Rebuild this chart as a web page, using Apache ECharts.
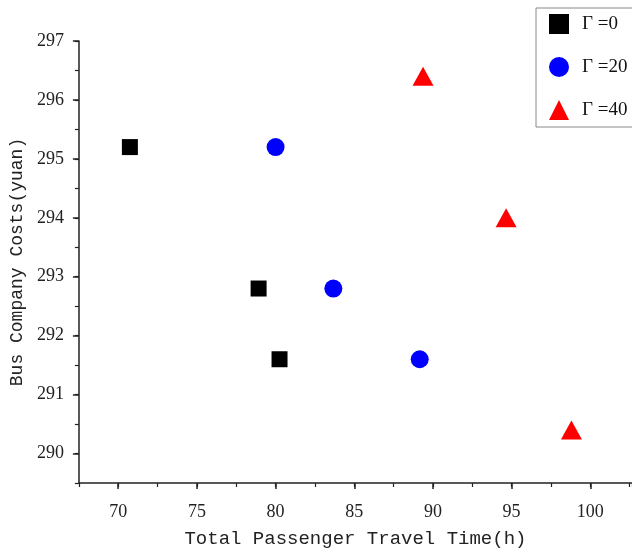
<!DOCTYPE html>
<html>
<head>
<meta charset="utf-8">
<script src="https://cdn.jsdelivr.net/npm/echarts@6/dist/echarts.min.js"></script>
<style>
  html, body { margin: 0; padding: 0; background: #fff; }
  #main { width: 632px; height: 553px; }
</style>
</head>
<body>
<div id="main"></div>
<script>
// data
var seriesNames = ['Γ =0', 'Γ =20', 'Γ =40'];
var g0Time = [70.74, 78.92, 80.25];
var g0Cost = [295.2, 292.8, 291.6];
var g20Time = [80.0, 83.67, 89.16];
var g20Cost = [295.2, 292.8, 291.6];
var g40Time = [89.37, 94.65, 98.8];
var g40Cost = [296.4, 294.0, 290.4];

function pairs(xs, ys) {
  return xs.map(function (x, i) { return [x, ys[i]]; });
}

var myChart = echarts.init(document.getElementById('main'));

var labelFont = { fontFamily: 'Liberation Serif', fontSize: 18, color: '#222' };
var axisLine = { lineStyle: { color: '#222', width: 1.5 } };

var option = {
  animation: false,
  backgroundColor: '#fff',
  grid: { left: 77, right: 0, top: 41, bottom: 69 },
  legend: {
    orient: 'vertical',
    left: 536,
    top: 8,
    padding: [6, 40, 7, 13],
    itemWidth: 20,
    itemHeight: 20,
    itemGap: 23,
    borderColor: '#888',
    borderWidth: 1,
    textStyle: { fontFamily: 'Liberation Serif', fontSize: 19, color: '#111', padding: [0, 0, 0, 8] },
    data: [
      { name: seriesNames[0], icon: 'rect' },
      { name: seriesNames[1], icon: 'circle' },
      { name: seriesNames[2], icon: 'triangle' }
    ]
  },
  xAxis: [
    {
      type: 'value',
      min: 67.5,
      max: 102.65,
      splitNumber: 7,
      position: 'bottom',
      name: 'Total Passenger Travel Time(h)',
      nameLocation: 'middle',
      nameGap: 46,
      nameTextStyle: { fontFamily: 'Liberation Mono', fontSize: 19, color: '#222' },
      axisLine: axisLine,
      axisTick: { length: 6, lineStyle: { color: '#222', width: 1.5 } },
      axisLabel: Object.assign({ margin: 20, showMinLabel: false, showMaxLabel: false }, labelFont),
      splitLine: { show: false }
    },
    {
      // minor ticks every 2.5
      type: 'value',
      min: 67.5,
      max: 102.65,
      interval: 2.5,
      position: 'bottom',
      axisLine: { show: false },
      axisTick: { length: 4, lineStyle: { color: '#222', width: 1.2 } },
      axisLabel: { show: false },
      splitLine: { show: false }
    }
  ],
  yAxis: [
    {
      type: 'value',
      min: 289.5,
      max: 297,
      splitNumber: 7,
      position: 'left',
      name: 'Bus Company Costs(yuan)',
      nameLocation: 'middle',
      nameGap: 46,
      nameTextStyle: { fontFamily: 'Liberation Mono', fontSize: 18, color: '#222' },
      axisLine: axisLine,
      axisTick: { length: 6, lineStyle: { color: '#222', width: 1.5 } },
      axisLabel: Object.assign({ margin: 15, showMinLabel: false }, labelFont),
      splitLine: { show: false }
    },
    {
      // minor ticks every 0.5
      type: 'value',
      min: 289.5,
      max: 297,
      interval: 0.5,
      position: 'left',
      axisLine: { show: false },
      axisTick: { length: 4, lineStyle: { color: '#222', width: 1.2 } },
      axisLabel: { show: false },
      splitLine: { show: false }
    }
  ],
  series: [
    {
      name: seriesNames[0],
      type: 'scatter',
      symbol: 'rect',
      symbolSize: 16,
      itemStyle: { color: '#000', opacity: 1 },
      data: pairs(g0Time, g0Cost)
    },
    {
      name: seriesNames[1],
      type: 'scatter',
      symbol: 'circle',
      symbolSize: 18,
      itemStyle: { color: '#0000ff', opacity: 1 },
      data: pairs(g20Time, g20Cost)
    },
    {
      name: seriesNames[2],
      type: 'scatter',
      symbol: 'triangle',
      symbolSize: [21, 19],
      itemStyle: { color: '#ff0000', opacity: 1 },
      data: pairs(g40Time, g40Cost)
    }
  ]
};

myChart.setOption(option);
</script>
</body>
</html>
